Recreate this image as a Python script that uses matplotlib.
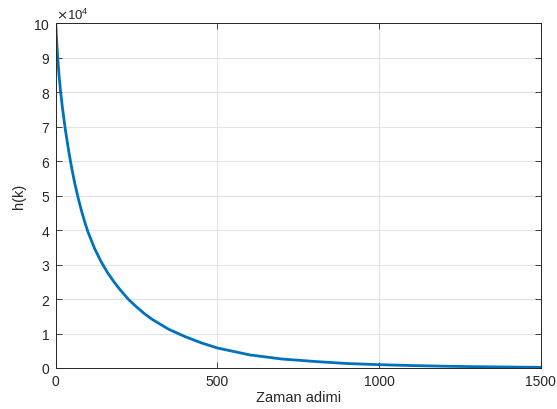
import matplotlib
matplotlib.use("Agg")
import matplotlib.pyplot as plt
from matplotlib.ticker import ScalarFormatter

plt.rcParams['font.family'] = ['Liberation Sans', 'DejaVu Sans']

# Values (h(k) in units of 1e4)
k_steps = [0, 2, 5, 10, 15, 20, 30, 40, 50, 60, 70, 80, 90, 100, 120, 140, 160, 180, 200,
           225, 250, 275, 300, 350, 400, 450, 500, 600, 700, 800, 900, 1000,
           1100, 1200, 1300, 1400, 1500]
h_values_e4 = [10.0, 9.65, 9.16, 8.52, 8.03, 7.61, 6.90, 6.30, 5.77, 5.31, 4.91, 4.55,
               4.23, 3.94, 3.47, 3.09, 2.77, 2.50, 2.26, 1.99, 1.77, 1.57, 1.40, 1.12,
               0.91, 0.73, 0.58, 0.38, 0.26, 0.19, 0.13, 0.097, 0.071, 0.052, 0.038,
               0.028, 0.02]
h_values = [v * 1e4 for v in h_values_e4]

x_ticks = [0, 500, 1000, 1500]
y_ticks = [i * 1e4 for i in range(0, 11)]

fig = plt.figure(figsize=(5.57, 4.10), dpi=100)
ax = fig.add_axes([0.100, 0.100, 0.871, 0.841])

ax.plot(k_steps, h_values, color='#0072BD', linewidth=2.0)

ax.set_xlim(0, 1500)
ax.set_ylim(0, 1e5)
ax.set_xticks(x_ticks)
ax.set_yticks(y_ticks)

fmt = ScalarFormatter(useMathText=True)
fmt.set_powerlimits((4, 4))
ax.yaxis.set_major_formatter(fmt)
ax.yaxis.get_offset_text().set_fontsize(9.5)
ax.yaxis.get_offset_text().set_color('#262626')

ax.grid(True, color='#e3e3e3', linewidth=0.8)
ax.set_axisbelow(True)
ax.tick_params(direction='in', length=4, width=0.6, colors='#262626',
               labelsize=10, top=True, right=True, pad=4)
for s in ax.spines.values():
    s.set_color('#262626')
    s.set_linewidth(0.7)

ax.set_xlabel('Zaman adimi', fontsize=10.5, color='#262626', labelpad=2)
ax.set_ylabel('h(k)', fontsize=10.5, color='#262626', labelpad=5)

fig.savefig('out.png', dpi=100)
